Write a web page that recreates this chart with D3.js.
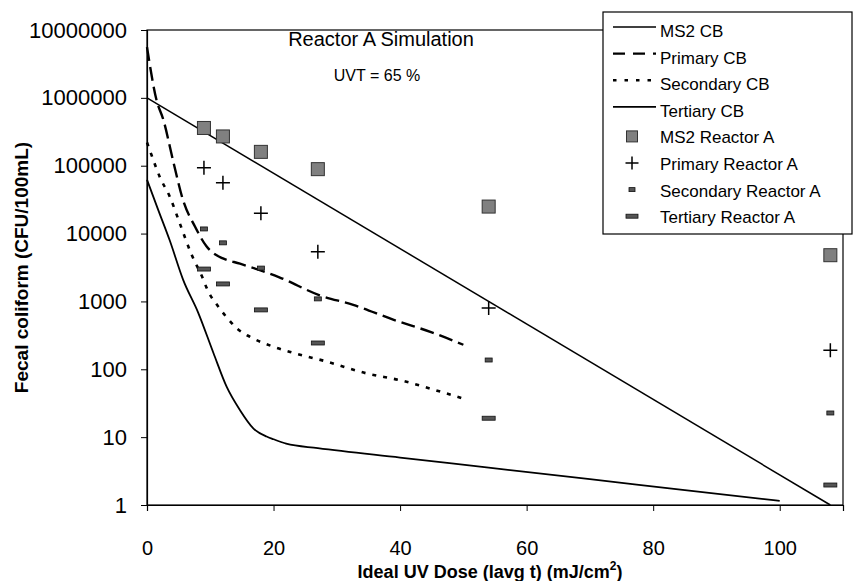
<!DOCTYPE html>
<html><head><meta charset="utf-8">
<script src="https://cdn.jsdelivr.net/npm/d3@7/dist/d3.min.js"></script>
<style>body{margin:0;background:#fff}svg{display:block}text{font-family:Arial,"Liberation Sans",sans-serif;fill:#000}</style>
</head><body><svg id="c" width="857" height="581"></svg>
<script>
// Data
const doses = [9, 12, 18, 27, 54, 108];
const ms2Reactor = [360000, 270000, 160000, 89000, 25000, 4800];
const primaryReactor = [93000, 56000, 20000, 5400, 800, 190];
const secondaryReactor = [11700, 7300, 3100, 1090, 137, 22.7];
const tertiaryReactor = [3000, 1810, 750, 244, 19, 1.97];

const ms2CBDose = [0, 108];
const ms2CBVal = [1000000, 1];
const primaryCBDose = [0, 1.5, 2.6, 4.2, 5.7, 7.6, 9.4, 10.2, 12, 14.7, 21, 27.3, 32.6, 38.9, 45, 50];
const primaryCBVal = [5600000, 930000, 470000, 110000, 31000, 12600, 6500, 5400, 4300, 3600, 2250, 1230, 890, 540, 350, 230];
const secondaryCBDose = [0, 0.7, 2, 3.6, 5.2, 7, 8.9, 9.4, 11.3, 12.9, 14.2, 16.3, 20, 23.1, 28.4, 34.7, 40, 47, 50];
const secondaryCBVal = [220000, 145000, 69000, 35000, 14000, 5000, 2100, 1600, 830, 540, 400, 300, 215, 175, 130, 87, 69, 45, 37];
const tertiaryCBDose = [0, 1.8, 3.6, 5.7, 8.1, 10.5, 12.6, 14.7, 16.8, 18.9, 20, 22, 27, 40, 54, 70, 85, 100];
const tertiaryCBVal = [62000, 22000, 7900, 2100, 680, 174, 55, 25, 13.5, 10.2, 9.3, 8, 6.9, 5, 3.55, 2.4, 1.66, 1.15];

const xTicks = [0, 20, 40, 60, 80, 100];
const yTicks = [1, 10, 100, 1000, 10000, 100000, 1000000, 10000000];
const legendLabels = ["MS2 CB", "Primary CB", "Secondary CB", "Tertiary CB", "MS2 Reactor A", "Primary Reactor A", "Secondary Reactor A", "Tertiary Reactor A"];

const svg = d3.select("#c");
const L = 147, R = 843, T = 30, B = 505;
const x = d3.scaleLinear().domain([0, 110]).range([L, R]);
const y = d3.scaleLog().domain([1, 10000000]).range([B, T]);

// plot border
svg.append("rect").attr("x", L).attr("y", T).attr("width", R - L).attr("height", B - T)
  .attr("fill", "none").attr("stroke", "#000").attr("stroke-width", 1.2);

// axes
const xAxis = d3.axisBottom(x).tickValues(xTicks).tickSize(6).tickFormat(d3.format("d"));
const gx = svg.append("g").attr("transform", `translate(0,${B})`).call(xAxis);
gx.select(".domain").attr("stroke", "#000").attr("stroke-width", 1.2);
gx.selectAll("text").attr("y", 50).attr("dy", "0")
  .style("font-size", "20px").style("font-family", "Arial, 'Liberation Sans', sans-serif");

const yAxis = d3.axisLeft(y).tickValues(yTicks).tickSize(6).tickPadding(14).tickFormat(d3.format("d"));
const gy = svg.append("g").attr("transform", `translate(${L},0)`).call(yAxis);
gy.select(".domain").attr("stroke", "#000").attr("stroke-width", 1.2);
gy.selectAll("text").style("font-size", "22px").style("font-family", "Arial, 'Liberation Sans', sans-serif");

// axis titles
svg.append("text").attr("transform", `translate(28,${(T + B) / 2}) rotate(-90)`)
  .attr("text-anchor", "middle").style("font-size", "19px").style("font-weight", "bold")
  .text("Fecal coliform (CFU/100mL)");
const xt = svg.append("text").attr("x", 490).attr("y", 578).attr("text-anchor", "middle")
  .style("font-size", "18px").style("font-weight", "bold");
xt.append("tspan").text("Ideal UV Dose (Iavg t) (mJ/cm");
xt.append("tspan").attr("dy", -8).style("font-size", "12px").text("2");
xt.append("tspan").attr("dy", 8).text(")");

// annotations
svg.append("text").attr("x", 381).attr("y", 46).attr("text-anchor", "middle").style("font-size", "20px").text("Reactor A Simulation");
svg.append("text").attr("x", 377).attr("y", 81).attr("text-anchor", "middle").style("font-size", "16px").text("UVT = 65 %");

// curves
const line = d3.line().x(d => x(d[0])).y(d => y(d[1])).curve(d3.curveMonotoneX);
const curves = [
  {d: ms2CBDose, v: ms2CBVal, dash: null, w: 1.5},
  {d: primaryCBDose, v: primaryCBVal, dash: "14,6", w: 2.4},
  {d: secondaryCBDose, v: secondaryCBVal, dash: "4,7", w: 2.6},
  {d: tertiaryCBDose, v: tertiaryCBVal, dash: null, w: 1.8}
];
curves.forEach(c => {
  svg.append("path").datum(c.d.map((dd, i) => [dd, c.v[i]]))
    .attr("d", line).attr("fill", "none").attr("stroke", "#000")
    .attr("stroke-width", c.w).attr("stroke-dasharray", c.dash);
});

// markers
function square(g, cx, cy, s) {
  g.append("rect").attr("x", cx - s / 2).attr("y", cy - s / 2).attr("width", s).attr("height", s)
    .attr("fill", "#808080").attr("stroke", "#333").attr("stroke-width", 1);
}
function plus(g, cx, cy, s) {
  g.append("path").attr("d", `M${cx - s / 2},${cy}H${cx + s / 2}M${cx},${cy - s / 2}V${cy + s / 2}`)
    .attr("stroke", "#000").attr("stroke-width", 1.5).attr("fill", "none");
}
function dashMark(g, cx, cy, w, h) {
  g.append("rect").attr("x", cx - w / 2).attr("y", cy - h / 2).attr("width", w).attr("height", h)
    .attr("fill", "#555").attr("stroke", "#111").attr("stroke-width", 0.8);
}
const mg = svg.append("g");
doses.forEach((d, i) => square(mg, x(d), y(ms2Reactor[i]), 13));
doses.forEach((d, i) => plus(mg, x(d), y(primaryReactor[i]), 14));
doses.forEach((d, i) => dashMark(mg, x(d), y(secondaryReactor[i]), 7, 4));
doses.forEach((d, i) => dashMark(mg, x(d), y(tertiaryReactor[i]), 13, 4));

// legend
const lg = svg.append("g");
lg.append("rect").attr("x", 603).attr("y", 12).attr("width", 249).attr("height", 222)
  .attr("fill", "#fff").attr("stroke", "#000").attr("stroke-width", 1.2);
legendLabels.forEach((lab, i) => {
  const cy = 31 + 26.6 * i;
  if (i < 4) {
    const c = curves[i];
    lg.append("line").attr("x1", 613).attr("x2", 656).attr("y1", cy - 4).attr("y2", cy - 4)
      .attr("stroke", "#000").attr("stroke-width", c.w).attr("stroke-dasharray", i === 1 ? "12,8" : (i === 2 ? "3.5,8" : null));
  } else if (i === 4) square(lg, 632, cy - 1, 11);
  else if (i === 5) plus(lg, 632, cy - 1, 13);
  else if (i === 6) dashMark(lg, 632, cy - 1, 6, 4);
  else dashMark(lg, 632, cy - 1, 12, 4);
  lg.append("text").attr("x", 660).attr("y", cy + 6).style("font-size", "17px").text(lab);
});
</script></body></html>
